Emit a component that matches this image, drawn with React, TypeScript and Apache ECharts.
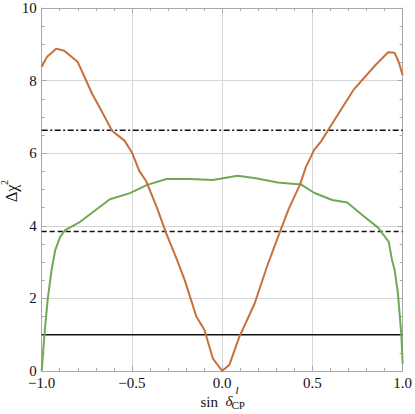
import React, { useEffect, useRef } from "react";
import * as echarts from "echarts";

// sin δ_CP values and Δχ²
const orangeCurve: [number, number][] = [
  [-1.0, 8.38], [-0.97, 8.66], [-0.92, 8.88], [-0.875, 8.82], [-0.8, 8.51],
  [-0.72, 7.63], [-0.68, 7.27], [-0.61, 6.62], [-0.54, 6.34], [-0.5, 6.02],
  [-0.46, 5.52], [-0.42, 5.22], [-0.36, 4.48], [-0.31, 3.79], [-0.25, 3.06],
  [-0.208, 2.51], [-0.143, 1.5], [-0.098, 1.13], [-0.052, 0.35], [0, 0],
  [0.04, 0.17], [0.095, 0.94], [0.18, 1.86], [0.25, 2.9], [0.31, 3.7],
  [0.37, 4.48], [0.43, 5.12], [0.465, 5.63], [0.51, 6.09], [0.55, 6.34],
  [0.59, 6.66], [0.73, 7.76], [0.85, 8.43], [0.92, 8.78], [0.955, 8.77],
  [0.978, 8.52], [1.0, 8.15],
];

const greenCurve: [number, number][] = [
  [-1.0, 0], [-0.985, 1.0], [-0.967, 1.96], [-0.945, 2.8], [-0.925, 3.33],
  [-0.897, 3.7], [-0.87, 3.88], [-0.787, 4.11], [-0.622, 4.73], [-0.511, 4.9],
  [-0.456, 5.03], [-0.419, 5.12], [-0.309, 5.29], [-0.18, 5.29], [-0.052, 5.26],
  [0.086, 5.38], [0.187, 5.31], [0.307, 5.19], [0.436, 5.14], [0.509, 4.91],
  [0.61, 4.71], [0.693, 4.64], [0.776, 4.3], [0.864, 3.95], [0.923, 3.56],
  [0.941, 3.06], [0.956, 2.78], [0.974, 2.14], [0.993, 0.99], [1.0, 0.2],
];

const confidenceLevels: number[] = [1, 3.84, 6.63];
const confidenceStyles: ("solid" | number[])[] = ["solid", [5, 3], [6, 2.5, 2, 2.5]];

const xRange: [number, number] = [-1, 1];
const yRange: [number, number] = [0, 10];

const SERIF = "Liberation Serif";
const FRAME = "#a8a8a8";
const GRID = "#d6d6d6";

const fmt = (v: number) => v.toFixed(1).replace("-", "\u2212");

export default function App() {
  const ref = useRef<HTMLDivElement>(null);
  useEffect(() => {
    if (!ref.current) return;
    const chart = echarts.init(ref.current, undefined, { renderer: "svg" });
    const tick = { show: true, inside: true, length: 5, lineStyle: { color: FRAME } };
    const minor = { show: true, splitNumber: 5, length: 3, lineStyle: { color: FRAME } };
    const minorY = { show: true, splitNumber: 4, length: 3, lineStyle: { color: FRAME } };
    const axisLine = { show: true, onZero: false, lineStyle: { color: FRAME, width: 1 } };
    const hLines = confidenceLevels.map((lv, i) => ({
      type: "line" as const,
      data: [[xRange[0], lv], [xRange[1], lv]],
      symbol: "none",
      silent: true,
      z: 3,
      lineStyle: { color: "#111", width: 1.5, type: confidenceStyles[i] as any },
    }));
    chart.setOption({
      animation: false,
      grid: { left: 41.7, right: 10.7, top: 8, bottom: 43 },
      xAxis: [
        {
          type: "value", min: xRange[0], max: xRange[1], interval: 0.5,
          axisLine, axisTick: tick, minorTick: minor,
          splitLine: { show: true, lineStyle: { color: GRID, width: 1 } },
          axisLabel: { formatter: fmt, color: "#111", fontFamily: SERIF, fontSize: 15, lineHeight: 13, margin: 5 },
        },
        {
          type: "value", position: "top", min: xRange[0], max: xRange[1], interval: 0.5,
          axisLine, axisTick: tick, minorTick: minor, splitLine: { show: false },
          axisLabel: { show: false },
        },
      ],
      yAxis: [
        {
          type: "value", min: yRange[0], max: yRange[1], interval: 2,
          axisLine, axisTick: tick, minorTick: minorY,
          splitLine: { show: true, lineStyle: { color: GRID, width: 1 } },
          axisLabel: { color: "#111", fontFamily: SERIF, fontSize: 15, lineHeight: 10, margin: 5 },
        },
        {
          type: "value", position: "right", min: yRange[0], max: yRange[1], interval: 2,
          axisLine, axisTick: tick, minorTick: minorY, splitLine: { show: false },
          axisLabel: { show: false },
        },
      ],
      series: [
        ...hLines,
        {
          type: "line", data: greenCurve, symbol: "none", z: 4,
          lineStyle: { color: "#6fa955", width: 2 },
        },
        {
          type: "line", data: orangeCurve, symbol: "none", z: 5,
          lineStyle: { color: "#c8703c", width: 2 },
        },
      ],
      graphic: [
        {
          type: "group", x: 16.5, y: 190, rotation: Math.PI / 2,
          children: [
            { type: "text", x: -12, y: -5, style: { text: "\u0394\u03c7", fontFamily: SERIF, fontSize: 16, fill: "#111", verticalAlign: "middle", align: "left" } },
            { type: "text", x: 5, y: -12.5, style: { text: "2", fontFamily: SERIF, fontSize: 10, fill: "#111", verticalAlign: "middle", align: "left" } },
          ],
        },
        { type: "text", x: 200.5, y: 402, style: { text: "sin", fontFamily: SERIF, fontSize: 15, fill: "#111", verticalAlign: "middle", align: "left" } },
        { type: "text", x: 225.5, y: 401, style: { text: "\u03b4", fontFamily: SERIF, fontStyle: "italic", fontSize: 15, fill: "#111", verticalAlign: "middle", align: "left" } },
        { type: "text", x: 235.5, y: 390, style: { text: "l", fontFamily: SERIF, fontStyle: "italic", fontSize: 11, fill: "#111", verticalAlign: "middle", align: "left" } },
        { type: "text", x: 231.5, y: 405, style: { text: "CP", fontFamily: SERIF, fontSize: 11, fill: "#111", verticalAlign: "middle", align: "left" } },
      ],
    });
    return () => chart.dispose();
  }, []);
  return <div ref={ref} style={{ width: 415, height: 414, position: "absolute", left: 0, top: 0 }} />;
}
